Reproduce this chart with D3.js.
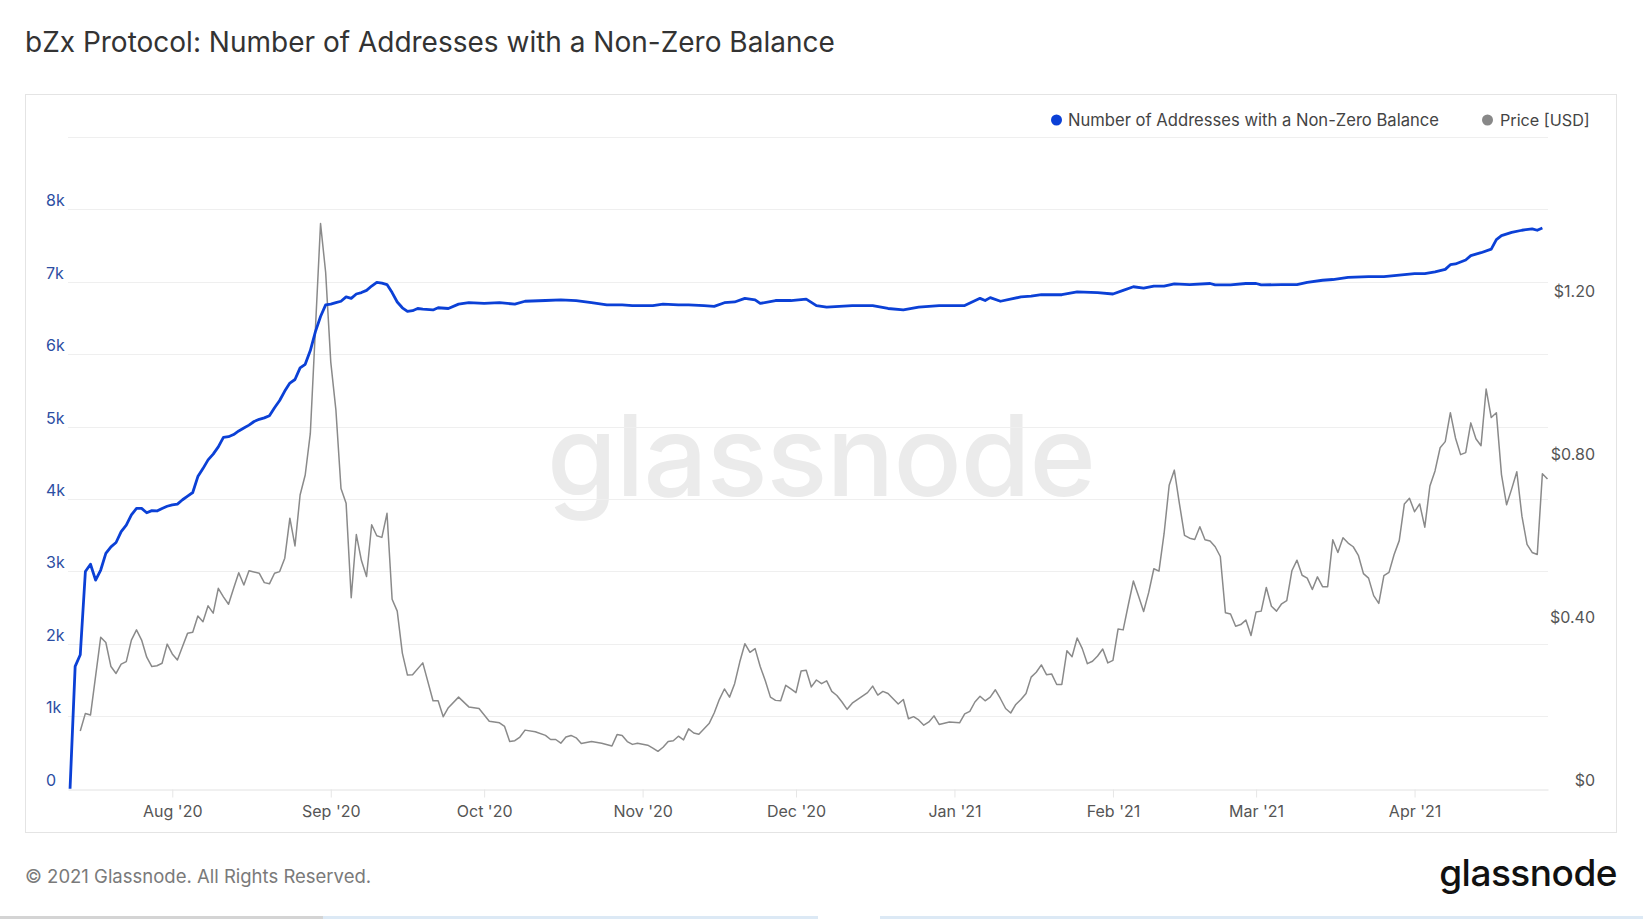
<!DOCTYPE html>
<html><head><meta charset="utf-8">
<script src="https://cdn.jsdelivr.net/npm/d3@7"></script>
<style>
html,body{margin:0;padding:0;background:#fff;}
svg{display:block;font-family:Inter,"Noto Sans",sans-serif;}
</style></head><body>
<svg id="chart" width="1643" height="919"></svg>
<script>
const chartTitle = "bZx Protocol: Number of Addresses with a Non-Zero Balance";
const seriesNames = ["Number of Addresses with a Non-Zero Balance", "Price [USD]"];
const footerText = "© 2021 Glassnode. All Rights Reserved.";
const brandText = "glassnode";
// day offsets are days since 2020-08-01
const baseDay = "2020-08-01";
const addrSeries = [[-20,0],[-19,1690],[-18,1850],[-17,3000],[-16,3100],[-15,2880],[-14,3020],[-13,3250],[-12,3340],[-11,3400],[-10,3550],[-9,3640],[-8,3780],[-7,3870],[-6,3870],[-5,3810],[-4,3840],[-3,3835],[-2,3870],[-1,3900],[0,3920],[1,3930],[2,3990],[3,4040],[4,4090],[5,4310],[6,4420],[7,4540],[8,4620],[9,4720],[10,4850],[11,4860],[12,4890],[13,4940],[14,4980],[15,5020],[16,5070],[17,5100],[18,5120],[19,5150],[20,5260],[21,5360],[22,5490],[23,5600],[24,5650],[25,5810],[26,5860],[27,6050],[28,6310],[29,6520],[30,6680],[31,6690],[32,6710],[33,6730],[34,6790],[35,6770],[36,6830],[37,6850],[38,6880],[39,6940],[40,6990],[41,6980],[42,6960],[43,6850],[44,6720],[45,6640],[46,6590],[47,6600],[48,6630],[49,6620],[51,6610],[52,6640],[54,6630],[56,6690],[58,6710],[61,6700],[64,6710],[67,6690],[69,6730],[73,6740],[76,6750],[79,6740],[82,6710],[85,6680],[88,6680],[90,6670],[94,6670],[96,6690],[99,6680],[101,6680],[104,6670],[106,6660],[108,6710],[110,6720],[112,6770],[114,6750],[115,6700],[118,6740],[121,6740],[124,6760],[126,6670],[128,6650],[133,6670],[137,6670],[140,6630],[143,6610],[146,6650],[150,6670],[153,6670],[155,6670],[158,6770],[159,6740],[160,6780],[162,6730],[166,6790],[168,6800],[170,6820],[174,6820],[177,6860],[181,6850],[184,6830],[186,6880],[188,6930],[190,6910],[192,6940],[194,6940],[196,6970],[199,6960],[203,6975],[204,6955],[207,6955],[210,6975],[212,6975],[213,6955],[217,6960],[220,6960],[222,6990],[225,7020],[227,7030],[230,7060],[234,7070],[237,7070],[240,7090],[243,7110],[245,7110],[247,7135],[249,7170],[250,7235],[251,7245],[253,7300],[254,7360],[256,7400],[258,7450],[259,7580],[260,7635],[262,7680],[264,7710],[266,7730],[267,7710],[268,7740]];
const priceSeries = [[-18,0.142],[-17,0.185],[-16,0.181],[-14,0.372],[-13,0.359],[-12,0.300],[-11,0.283],[-10,0.306],[-9,0.312],[-8,0.365],[-7,0.390],[-6,0.365],[-5,0.323],[-4,0.300],[-3,0.302],[-2,0.308],[-1,0.355],[0,0.331],[1,0.316],[2,0.349],[3,0.382],[4,0.384],[5,0.424],[6,0.410],[7,0.449],[8,0.431],[9,0.492],[10,0.471],[11,0.453],[12,0.492],[13,0.530],[14,0.500],[15,0.535],[17,0.529],[18,0.506],[19,0.503],[20,0.529],[21,0.533],[22,0.566],[23,0.664],[24,0.596],[25,0.721],[26,0.770],[27,0.872],[29,1.387],[30,1.267],[31,1.047],[32,0.930],[33,0.737],[34,0.701],[35,0.469],[36,0.624],[37,0.560],[38,0.521],[39,0.648],[40,0.621],[41,0.617],[42,0.676],[43,0.465],[44,0.436],[45,0.333],[46,0.279],[47,0.280],[49,0.309],[51,0.216],[52,0.216],[53,0.177],[54,0.199],[56,0.225],[58,0.201],[60,0.197],[62,0.166],[64,0.162],[65,0.153],[66,0.116],[67,0.118],[68,0.127],[69,0.144],[71,0.140],[73,0.131],[74,0.121],[75,0.121],[76,0.112],[77,0.127],[78,0.131],[79,0.125],[80,0.111],[82,0.116],[84,0.112],[86,0.105],[87,0.133],[88,0.131],[89,0.116],[90,0.109],[91,0.112],[93,0.107],[94,0.100],[95,0.092],[96,0.102],[97,0.116],[98,0.118],[99,0.129],[100,0.120],[101,0.147],[102,0.137],[103,0.134],[105,0.160],[106,0.186],[107,0.219],[108,0.245],[109,0.225],[110,0.258],[111,0.311],[112,0.356],[113,0.335],[114,0.344],[115,0.300],[116,0.265],[117,0.225],[118,0.217],[119,0.216],[120,0.254],[121,0.245],[122,0.236],[123,0.289],[124,0.291],[125,0.250],[126,0.267],[127,0.258],[128,0.265],[129,0.239],[130,0.229],[131,0.213],[132,0.195],[133,0.210],[134,0.219],[136,0.236],[137,0.252],[138,0.230],[139,0.239],[140,0.234],[141,0.221],[142,0.208],[143,0.219],[144,0.172],[145,0.177],[146,0.169],[147,0.156],[148,0.164],[149,0.179],[150,0.158],[152,0.164],[154,0.162],[155,0.184],[156,0.190],[157,0.213],[158,0.227],[159,0.216],[160,0.225],[161,0.243],[162,0.221],[163,0.197],[164,0.186],[165,0.207],[166,0.219],[167,0.234],[168,0.274],[169,0.286],[170,0.304],[171,0.280],[172,0.282],[173,0.256],[174,0.256],[175,0.339],[176,0.324],[177,0.370],[178,0.344],[179,0.307],[180,0.313],[181,0.326],[182,0.343],[183,0.309],[184,0.315],[185,0.392],[186,0.390],[187,0.451],[188,0.510],[189,0.473],[190,0.435],[191,0.482],[192,0.540],[193,0.534],[194,0.626],[195,0.745],[196,0.782],[197,0.700],[198,0.622],[199,0.615],[200,0.612],[201,0.643],[202,0.611],[203,0.608],[204,0.594],[205,0.570],[206,0.432],[207,0.429],[208,0.399],[209,0.403],[210,0.414],[211,0.376],[212,0.434],[213,0.436],[214,0.494],[215,0.448],[216,0.436],[217,0.454],[218,0.462],[219,0.535],[220,0.561],[221,0.524],[222,0.517],[223,0.489],[224,0.520],[225,0.496],[226,0.496],[227,0.611],[228,0.580],[229,0.616],[230,0.603],[231,0.594],[232,0.573],[233,0.528],[234,0.517],[235,0.474],[236,0.455],[237,0.523],[238,0.531],[239,0.575],[240,0.609],[241,0.699],[242,0.713],[243,0.680],[244,0.699],[245,0.642],[246,0.743],[247,0.780],[248,0.837],[249,0.852],[250,0.923],[251,0.861],[252,0.820],[253,0.825],[254,0.898],[255,0.859],[256,0.842],[257,0.981],[258,0.911],[259,0.923],[260,0.771],[261,0.697],[262,0.736],[263,0.778],[264,0.669],[265,0.600],[266,0.580],[267,0.575],[268,0.773],[269,0.760]];
const leftTicks = [0,1000,2000,3000,4000,5000,6000,7000,8000];
const leftTickLabels = ["0","1k","2k","3k","4k","5k","6k","7k","8k"];
const gridTicks = [1000,2000,3000,4000,5000,6000,7000,8000,9000];
const rightTicks = [0,0.4,0.8,1.2];
const rightTickLabels = ["$0","$0.40","$0.80","$1.20"];
const monthTicks = ["2020-08-01","2020-09-01","2020-10-01","2020-11-01","2020-12-01","2021-01-01","2021-02-01","2021-03-01","2021-04-01"];
const monthLabels = ["Aug '20","Sep '20","Oct '20","Nov '20","Dec '20","Jan '21","Feb '21","Mar '21","Apr '21"];
const xDomainDays = [-20.4, 269.1];
const leftDomain = [0, 9000];
const priceDomain = [0, 1.6];

const colors = {blue:"#0b40d6", price:"#8a8a8a", grid:"#efefef", leftLabel:"#2c4ea3", label:"#555"};

const base = new Date(baseDay + "T00:00:00Z").getTime();
const dayDate = d => new Date(base + d * 864e5);

const svg = d3.select("#chart");
const L = 68, R = 1548, T = 136.8, B = 788.8;

svg.append("rect").attr("width",1643).attr("height",919).attr("fill","#fff");

// title
svg.append("text").attr("x",25).attr("y",52).attr("font-size",28).attr("fill","#333").text(chartTitle);

// frame
svg.append("rect").attr("x",25.5).attr("y",94.5).attr("width",1591).attr("height",738)
  .attr("fill","none").attr("stroke","#e4e4e4");

const x = d3.scaleUtc().domain(xDomainDays.map(dayDate)).range([L, R]);
const yL = d3.scaleLinear().domain(leftDomain).range([B, T]);
const yP = d3.scaleLinear().domain(priceDomain).range([B, T]);

// watermark
svg.append("text").attr("x",821).attr("y",496).attr("text-anchor","middle")
  .attr("font-size",113).attr("font-weight",500).attr("fill","#ebebeb").attr("letter-spacing",-1).text(brandText);

// gridlines
svg.append("g").selectAll("line").data(gridTicks).join("line")
  .attr("x1",L).attr("x2",R).attr("y1",d=>Math.round(yL(d))+0.5).attr("y2",d=>Math.round(yL(d))+0.5)
  .attr("stroke",colors.grid);

// x axis
const xAxis = svg.append("g").attr("transform",`translate(0,${Math.round(B)+0.5})`)
  .call(d3.axisBottom(x).tickValues(monthTicks.map(s=>new Date(s+"T00:00:00Z")))
    .tickFormat((d,i)=>monthLabels[i]).tickSize(8).tickSizeOuter(0));
xAxis.select(".domain").attr("stroke","#e2e2e2");
xAxis.selectAll(".tick line").attr("stroke","#e6e6e6");
xAxis.selectAll(".tick text").attr("y",27).attr("dy",0).attr("font-size",16)
  .attr("fill",colors.label).attr("font-family","Inter, 'Noto Sans', sans-serif");

// left axis
const lAxis = svg.append("g").attr("transform",`translate(${L},0)`)
  .call(d3.axisLeft(yL).tickValues(leftTicks).tickFormat((d,i)=>leftTickLabels[i]).tickSize(0));
lAxis.select(".domain").remove();
lAxis.selectAll(".tick text").attr("x",-22).attr("y",-3.5).attr("dy",0).attr("text-anchor","start")
  .attr("font-size",16).attr("fill",colors.leftLabel).attr("font-family","Inter, 'Noto Sans', sans-serif");

// right axis
const rAxis = svg.append("g").attr("transform",`translate(${R},0)`)
  .call(d3.axisRight(yP).tickValues(rightTicks).tickFormat((d,i)=>rightTickLabels[i]).tickSize(0));
rAxis.select(".domain").remove();
rAxis.selectAll(".tick text").attr("x",47).attr("y",-3).attr("dy",0).attr("text-anchor","end")
  .attr("font-size",16).attr("fill",colors.label).attr("font-family","Inter, 'Noto Sans', sans-serif");

// lines
const priceLine = d3.line().x(d=>x(dayDate(d[0]))).y(d=>yP(d[1]));
svg.append("path").datum(priceSeries).attr("d",priceLine).attr("fill","none")
  .attr("stroke",colors.price).attr("stroke-width",1.5).attr("stroke-linejoin","round");
const addrLine = d3.line().x(d=>x(dayDate(d[0]))).y(d=>yL(d[1]));
svg.append("path").datum(addrSeries).attr("d",addrLine).attr("fill","none")
  .attr("stroke",colors.blue).attr("stroke-width",2.8).attr("stroke-linejoin","round");

// legend
const lg = svg.append("g").attr("font-size",16.6).attr("fill","#444");
lg.append("circle").attr("cx",1056.5).attr("cy",120).attr("r",5.5).attr("fill",colors.blue);
lg.append("text").attr("x",1068).attr("y",125.5).text(seriesNames[0]);
lg.append("circle").attr("cx",1487.5).attr("cy",120).attr("r",5.5).attr("fill","#888");
lg.append("text").attr("x",1500).attr("y",125.5).attr("font-size",16.2).text(seriesNames[1]);

// footer
svg.append("text").attr("x",25).attr("y",883).attr("font-size",18.5).attr("fill","#7a7a7a").text(footerText);
svg.append("text").attr("x",1617).attr("y",886).attr("text-anchor","end").attr("font-size",37)
  .attr("font-weight",500).attr("fill","#111").attr("letter-spacing",-0.5).text(brandText);

// bottom strip
svg.append("rect").attr("x",0).attr("y",916).attr("width",323).attr("height",3).attr("fill","#d4d4d4");
svg.append("rect").attr("x",323).attr("y",916).attr("width",495).attr("height",3).attr("fill","#dce9f5");
svg.append("rect").attr("x",880).attr("y",916).attr("width",763).attr("height",3).attr("fill","#dce9f5");
</script>
</body></html>
